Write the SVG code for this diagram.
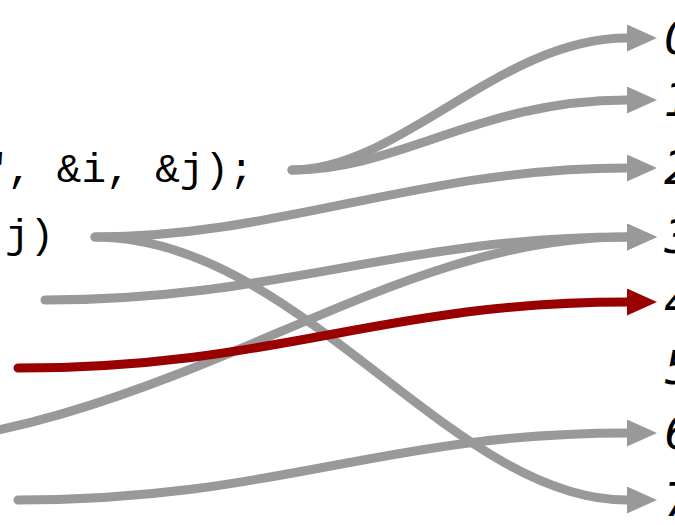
<svg xmlns="http://www.w3.org/2000/svg" width="675" height="525" viewBox="0 0 675 525">
<style>
.code{font-family:"Liberation Mono","DejaVu Sans Mono",monospace;font-size:41px;fill:#000}
.idx{font-family:"DejaVu Sans","Liberation Sans",sans-serif;font-style:italic;font-size:46px;fill:#000}
.c{fill:none;stroke-width:9;stroke-linecap:round}
.g{stroke:#999999;marker-end:url(#ag)}
.r{stroke:#990000;marker-end:url(#ar)}
</style>
<defs>
<marker id="ag" markerUnits="userSpaceOnUse" markerWidth="31" markerHeight="28" refX="0" refY="13.5" orient="auto" viewBox="0 0 31 28"><path d="M0,0 L30,13.5 L0,27 Z" fill="#999999"/></marker>
<marker id="ar" markerUnits="userSpaceOnUse" markerWidth="31" markerHeight="28" refX="0" refY="13.5" orient="auto" viewBox="0 0 31 28"><path d="M0,0 L30,13.5 L0,27 Z" fill="#990000"/></marker>
</defs>
<rect width="675" height="525" fill="#fff"/>
<g id="code1"><text class="code" x="-17" y="182">", &amp;i, &amp;j);</text></g>
<g id="code2"><text class="code" x="5" y="248">j)</text></g>
<g id="n0"><text class="idx" x="664" y="54">0</text></g>
<g id="n1"><text class="idx" x="664" y="116">1</text></g>
<g id="n2"><text class="idx" x="664" y="184">2</text></g>
<g id="n3"><text class="idx" x="664" y="253">3</text></g>
<g id="n4"><text class="idx" x="664" y="318">4</text></g>
<g id="n5"><text class="idx" x="664" y="384">5</text></g>
<g id="n6"><text class="idx" x="664" y="449">6</text></g>
<g id="n7"><text class="idx" x="664" y="516">7</text></g>
<g id="connectors">
<path class="c g" d="M292,170 C400,170 500,38 627,38"/>
<path class="c g" d="M292,170 C400,170 480,100 627,100"/>
<path class="c g" d="M95,237 C280,237 420,168 627,168"/>
<path class="c g" d="M95,237 C300,237 450,500 627,500"/>
<path class="c g" d="M45,300 C280,300 400,237 627,237"/>
<path class="c g" d="M-200,452 C165,452 360,237 627,237"/>
<path class="c r" d="M18,368 C280,368 380,302 627,302"/>
<path class="c g" d="M18,500 C280,500 380,433 627,433"/>
</g>
</svg>
